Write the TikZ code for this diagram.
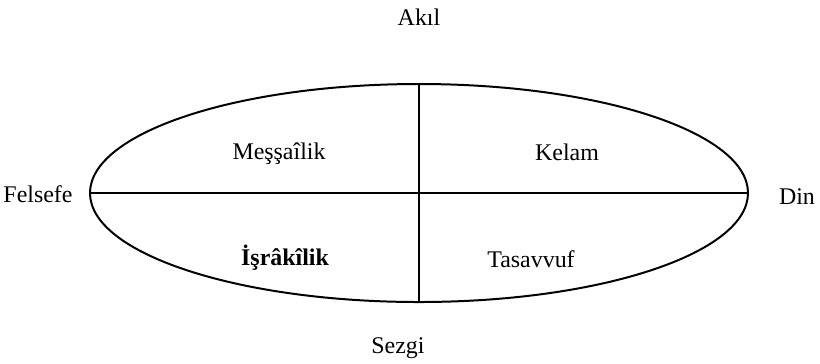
\documentclass[tikz,border=0pt]{standalone}
\usepackage{fontspec}
\setmainfont{Liberation Serif}
\usetikzlibrary{shapes.geometric,positioning}
\begin{document}
\begin{tikzpicture}[x=0.5bp,y=-0.5bp]
  \tikzstyle{lbl}=[inner sep=0pt,anchor=base,font=\fontsize{12}{14}\selectfont]
  \useasboundingbox (0,0) rectangle (820,363);
  \node[draw,ellipse,line width=1pt,inner sep=0pt,minimum width=329bp,minimum height=109bp] (oval) at (419,193) {};
  \draw[line width=0.8pt] (oval.west) -- (oval.east);
  \draw[line width=0.8pt] (oval.north) -- (oval.south);
  % poles
  \node[lbl] (akil) at (419,25) {Akıl};
  \node[lbl] (sezgi) at (398,353) {Sezgi};
  \node[lbl] (felsefe) at (38,202) {Felsefe};
  \node[lbl] (din) at (797,204) {Din};
  % quadrants
  \node[lbl] (messai) at (279,159) {Meşşaîlik};
  \node[lbl] (kelam) at (567,160) {Kelam};
  \node[lbl,font=\fontsize{12}{14}\selectfont\bfseries] (israki) at (285,265) {İşrâkîlik};
  \node[lbl] (tasavvuf) at (531,267) {Tasavvuf};
\end{tikzpicture}
\end{document}
